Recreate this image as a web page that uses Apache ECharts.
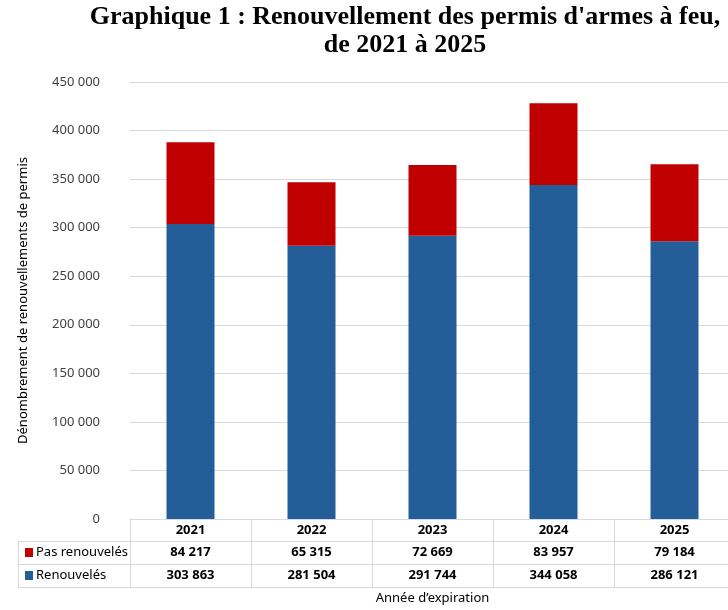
<!DOCTYPE html>
<html>
<head>
<meta charset="utf-8">
<script src="https://cdn.jsdelivr.net/npm/echarts@6/dist/echarts.min.js"></script>
<style>
  html, body { margin: 0; padding: 0; background: #fff; }
  #chart { width: 728px; height: 610px; }
</style>
</head>
<body>
<div id="chart"></div>
<script>
var annees = ['2021', '2022', '2023', '2024', '2025'];
var pasRenouveles = [84217, 65315, 72669, 83957, 79184];
var renouveles = [303863, 281504, 291744, 344058, 286121];
var yTicks = { min: 0, max: 450000, interval: 50000 };

function fmt(v) {
  return String(v).replace(/\B(?=(\d{3})+(?!\d))/g, ' ');
}

var lineColor = '#d9d9d9';
var font = 'Noto Sans';
const chart = echarts.init(document.getElementById('chart'));

var option = {
  animation: false,
  textStyle: { fontFamily: font },
  grid: { left: 130, top: 82, width: 605, height: 437, containLabel: false, outerBoundsMode: 'none' },
  legend: {
    orient: 'vertical',
    left: 25,
    top: 545.5,
    padding: 0,
    itemWidth: 8,
    itemHeight: 9,
    itemGap: 9,
    icon: 'rect',
    selectedMode: false,
    data: ['Pas renouvelés', 'Renouvelés'],
    textStyle: { fontFamily: font, fontSize: 13, lineHeight: 14, color: '#000', padding: [0, 0, 0, -2] }
  },
  graphic: [
    {
      type: 'text', x: 405, y: 3,
      style: {
        text: "Graphique 1 : Renouvellement des permis d'armes à feu,\nde 2021 à 2025",
        align: 'center',
        font: 'bold 26px "Liberation Serif"', fill: '#000', lineHeight: 28
      }
    },
    // bordures de la colonne des libellés
    { type: 'line', shape: { x1: 18, y1: 541.5, x2: 130, y2: 541.5 }, style: { stroke: lineColor } },
    { type: 'line', shape: { x1: 18, y1: 564.5, x2: 130, y2: 564.5 }, style: { stroke: lineColor } },
    { type: 'line', shape: { x1: 18, y1: 587.5, x2: 130, y2: 587.5 }, style: { stroke: lineColor } },
    { type: 'line', shape: { x1: 18.5, y1: 541, x2: 18.5, y2: 588 }, style: { stroke: lineColor } }
  ],
  xAxis: [
    {
      type: 'category', data: annees, position: 'bottom', offset: 0,
      axisLine: { lineStyle: { color: lineColor } },
      axisTick: { show: true, length: 68, interval: 0, lineStyle: { color: lineColor } },
      axisLabel: { margin: 4, fontSize: 13, fontWeight: 'bold', color: '#000', lineHeight: 14 }
    },
    {
      type: 'category', data: annees, position: 'bottom', offset: 22,
      axisLine: { lineStyle: { color: lineColor } },
      axisTick: { show: false },
      axisLabel: {
        margin: 4.5, fontSize: 13, fontWeight: 'bold', color: '#000', lineHeight: 14,
        formatter: function (v, i) { return fmt(pasRenouveles[i]); }
      }
    },
    {
      type: 'category', data: annees, position: 'bottom', offset: 45,
      axisLine: { lineStyle: { color: lineColor } },
      axisTick: { show: false },
      axisLabel: {
        margin: 4.5, fontSize: 13, fontWeight: 'bold', color: '#000', lineHeight: 14,
        formatter: function (v, i) { return fmt(renouveles[i]); }
      }
    },
    {
      type: 'category', data: annees, position: 'bottom', offset: 68,
      axisLine: { lineStyle: { color: lineColor } },
      axisTick: { show: false },
      axisLabel: { show: false },
      name: 'Année d’expiration', nameLocation: 'middle', nameGap: 5,
      nameTextStyle: { fontSize: 13, color: '#000', fontFamily: font, verticalAlign: 'top' }
    }
  ],
  yAxis: {
    type: 'value',
    min: yTicks.min, max: yTicks.max, interval: yTicks.interval,
    axisLine: { show: false },
    axisTick: { show: false },
    splitLine: { lineStyle: { color: lineColor, width: 1 } },
    axisLabel: { margin: 30, fontSize: 13, color: '#404040', formatter: fmt },
    name: 'Dénombrement de renouvellements de permis',
    nameLocation: 'middle', nameRotate: 90, nameGap: 100,
    nameTextStyle: { fontSize: 13, color: '#000', fontFamily: font }
  },
  series: [
    {
      name: 'Renouvelés', type: 'bar', stack: 'total', xAxisIndex: 0,
      barWidth: 48, data: renouveles,
      itemStyle: { color: '#245e98' }
    },
    {
      name: 'Pas renouvelés', type: 'bar', stack: 'total', xAxisIndex: 0,
      barWidth: 48, data: pasRenouveles,
      itemStyle: { color: '#c00000' }
    }
  ]
};

option && chart.setOption(option);
</script>
</body>
</html>
